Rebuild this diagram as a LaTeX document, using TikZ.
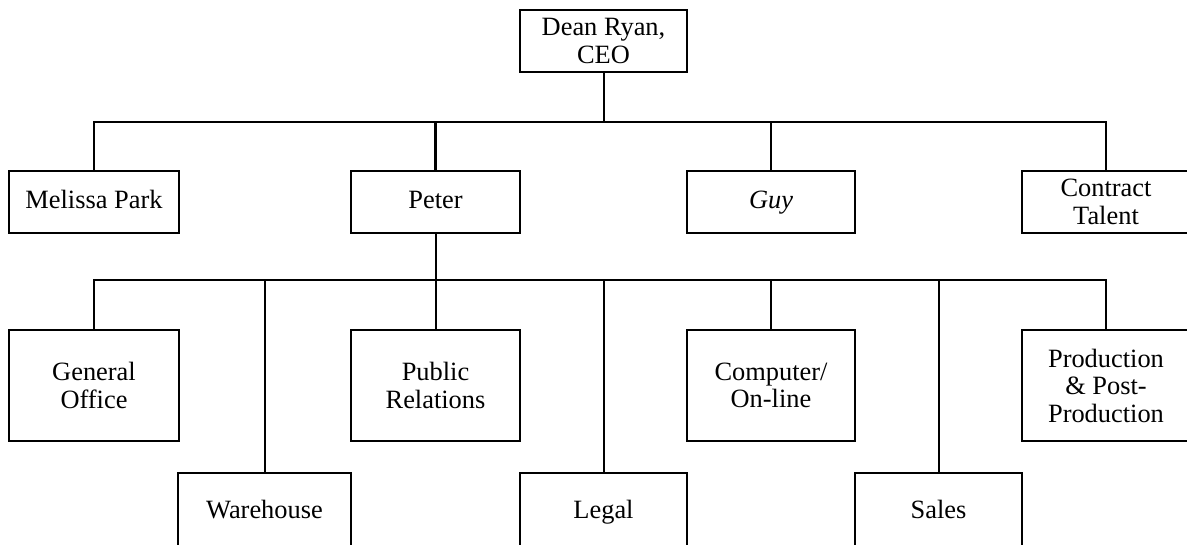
\documentclass[tikz,border=0pt]{standalone}
\usepackage{fontspec}
\setmainfont{Liberation Serif}
\begin{document}
\begin{tikzpicture}[x=1pt,y=-1pt,
  box/.style={draw,line width=2pt,align=center,inner sep=0pt,
    font={\fontsize{26.4}{27.5}\selectfont},minimum width=168pt},
  rowA/.style={box,minimum height=62pt},
  rowB/.style={box,minimum height=111pt},
  rowC/.style={box,minimum height=77pt},
  oneline/.style={text height=18pt,text depth=5pt},
  link/.style={line width=2pt},
  thick link/.style={line width=3.5pt}]
\clip (0,0) rectangle (1187,544);
\fill[white] (0,0) rectangle (1187,544);
% top
\node[rowA,minimum width=167pt] (ceo) at (603.5,41) {Dean Ryan,\\CEO};
% row 1
\node[rowA,oneline,minimum width=170pt] (mel) at (94,202) {Melissa Park};
\node[rowA,oneline,minimum width=169pt] (pet) at (435.5,202) {Peter};
\node[rowA,oneline] (guy) at (771,202) {\itshape Guy};
\node[rowA] (con) at (1106,202) {Contract\\Talent};
% row 2
\node[rowB,minimum width=170pt] (gen) at (94,385.5) {General\\Office};
\node[rowB,minimum width=169pt] (pub) at (435.5,385.5) {Public\\Relations};
\node[rowB] (com) at (771,385.5) {Computer/\\On-line};
\node[rowB] (pro) at (1106,385.5) {Production\\\&~Post-\\Production};
% row 3
\node[rowC,oneline,minimum width=173pt] (war) at (264.5,511.5) {Warehouse};
\node[rowC,oneline,minimum width=167pt] (leg) at (603.5,511.5) {Legal};
\node[rowC,oneline,minimum width=167pt] (sal) at (938.5,511.5) {Sales};
% buses
\coordinate (b1) at (0,122);
\coordinate (b2) at (0,280);
\draw[link] (ceo.south) -- (ceo.south |- b1);
\draw[link] (mel.north) -- (mel.north |- b1) -- (con.north |- b1) -- (con.north);
\draw[thick link] (pet.north |- b1) -- (pet.north);
\draw[link] (guy.north |- b1) -- (guy.north);
\draw[link] (pet.south) -- (pet.south |- b2);
\draw[link] (gen.north) -- (gen.north |- b2) -- (pro.north |- b2) -- (pro.north);
\draw[link] (pub.north |- b2) -- (pub.north);
\draw[link] (com.north |- b2) -- (com.north);
\draw[link] (war.north |- b2) -- (war.north);
\draw[link] (leg.north |- b2) -- (leg.north);
\draw[link] (sal.north |- b2) -- (sal.north);
\end{tikzpicture}
\end{document}
